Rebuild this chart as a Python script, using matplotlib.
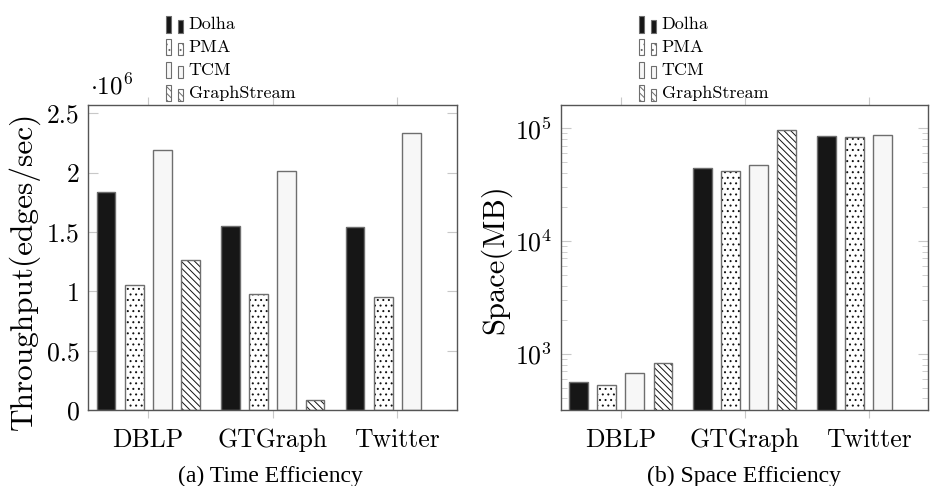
import numpy as np
import matplotlib
matplotlib.use("Agg")
import matplotlib.pyplot as plt
from matplotlib.patches import Rectangle, Patch
from matplotlib.legend_handler import HandlerBase
from matplotlib.ticker import FuncFormatter, FixedLocator, LogLocator, NullFormatter

# ---------------- data ----------------
categories = ["DBLP", "GTGraph", "Twitter"]
series = ["Dolha", "PMA", "TCM", "GraphStream"]
throughput = {
    "Dolha":       [1.834e6, 1.550e6, 1.545e6],
    "PMA":         [1.056e6, 0.975e6, 0.949e6],
    "TCM":         [2.190e6, 2.010e6, 2.336e6],
    "GraphStream": [1.266e6, 0.082e6, np.nan],
}
space = {
    "Dolha":       [557, 44700, 86000],
    "PMA":         [527, 41500, 84200],
    "TCM":         [679, 47000, 87700],
    "GraphStream": [822, 96000, np.nan],
}
thr_ticks = [0, 0.5e6, 1.0e6, 1.5e6, 2.0e6, 2.5e6]
thr_ylabel = "Throughput(edges/sec)"
space_ylabel = "Space(MB)"
captions = ["(a) Time Efficiency", "(b) Space Efficiency"]

# ---------------- style ----------------
plt.rcParams['font.family'] = ['cmr10', 'DejaVu Serif']
plt.rcParams['mathtext.fontset'] = 'cm'
plt.rcParams['axes.formatter.use_mathtext'] = True
plt.rcParams['hatch.linewidth'] = 0.7

styles = {
    "Dolha":       dict(fc="#161616", hatch=None),
    "PMA":         dict(fc="white", hatch="..."),
    "TCM":         dict(fc="#f7f7f7", hatch=None),
    "GraphStream": dict(fc="white", hatch="\\\\\\\\\\"),
}
EDGE = "#6e6e6e"
HATCHC = "#111111"
offsets = [-0.34, -0.113, 0.113, 0.34]
bw = 0.15

fig = plt.figure(figsize=(9.3, 4.86), dpi=100)
axL = fig.add_axes([88/930, 76/486, 369/930, 305/486])
axR = fig.add_axes([560.7/930, 76/486, 367.3/930, 305/486])

x = np.arange(len(categories))


def draw_bars(ax, data):
    for s, off in zip(series, offsets):
        st = styles[s]
        vals = np.array(data[s], dtype=float)
        ax.bar(x + off, vals, bw, color=st["fc"], hatch=st["hatch"],
               edgecolor=HATCHC, linewidth=0, zorder=2)
        ax.bar(x + off, vals, bw, fill=False, edgecolor=EDGE,
               linewidth=1.0, zorder=3)


class TwoBarHandler(HandlerBase):
    def create_artists(self, legend, orig_handle, xdescent, ydescent,
                       width, height, fontsize, trans):
        fc = orig_handle.get_facecolor()
        hatch = orig_handle.get_hatch()
        arts = []
        for (x0, w, h) in [(0.0, 0.3, 1.2), (0.7, 0.3, 0.88)]:
            r = Rectangle((-xdescent + x0 * width, -ydescent - 0.2 * height),
                          w * width, h * height, facecolor=fc, hatch=hatch,
                          edgecolor=EDGE, linewidth=0.8, transform=trans)
            arts.append(r)
        return arts


def style_axes(ax):
    for sp in ax.spines.values():
        sp.set_color("#555555")
        sp.set_linewidth(1.0)
    ax.set_xlim(-0.484, 2.48)
    ax.set_xticks(x)
    ax.set_xticklabels(categories, fontsize=18.5)
    ax.tick_params(axis='x', which='both', direction='out', length=6,
                   color="#c8c8c8", top=True, bottom=True, pad=7)
    ax.tick_params(axis='y', which='major', direction='in', length=7,
                   color="#c8c8c8", left=True, right=True, labelsize=18.5, pad=6)
    ax.tick_params(axis='y', which='minor', direction='in', length=4,
                   color="#c8c8c8", left=True, right=True)


def add_legend(ax, x_px):
    handles = [Patch(facecolor=styles[s]["fc"], hatch=styles[s]["hatch"],
                     edgecolor=EDGE) for s in series]
    fig.legend(handles, series, handler_map={Patch: TwoBarHandler()},
               loc='upper left', bbox_to_anchor=(x_px/930, 1 - 16/486),
               frameon=False, fontsize=13, handlelength=0.96,
               handleheight=0.8, handletextpad=0.3, labelspacing=0.37,
               borderpad=0, borderaxespad=0)


# left panel
draw_bars(axL, throughput)
style_axes(axL)
axL.set_ylim(0, 2.57e6)
axL.yaxis.set_major_locator(FixedLocator(thr_ticks))
axL.yaxis.set_major_formatter(FuncFormatter(lambda v, p: f"{v/1e6:g}"))
axL.text(0.005, 1.02, r"$\cdot 10^{6}$", transform=axL.transAxes,
         fontsize=18, ha='left', va='bottom')
fig.text(24/930, 1 - 271/486, thr_ylabel, rotation=90, fontsize=22.5,
         ha='center', va='center')

# right panel
draw_bars(axR, space)
axR.set_yscale('log')
style_axes(axR)
axR.set_ylim(316, 161000)
axR.yaxis.set_major_locator(LogLocator(base=10))
axR.yaxis.set_minor_locator(LogLocator(base=10, subs=np.arange(2, 10)))
axR.yaxis.set_minor_formatter(NullFormatter())
fig.text(496/930, 1 - 259/486, space_ylabel, rotation=90, fontsize=22,
         ha='center', va='center')

add_legend(axL, 166)
add_legend(axR, 639)

fig.text(270/930, 1 - 476/486, captions[0], fontsize=17,
         family='Liberation Serif', ha='center', va='center')
fig.text(744/930, 1 - 476/486, captions[1], fontsize=17,
         family='Liberation Serif', ha='center', va='center')

fig.savefig("out.png", dpi=100)
